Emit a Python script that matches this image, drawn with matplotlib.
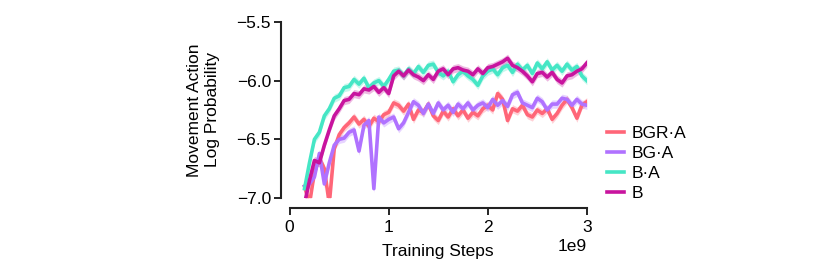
import numpy as np
import matplotlib
matplotlib.use("Agg")
import matplotlib.pyplot as plt

plt.rcParams['font.family'] = ['Liberation Sans', 'DejaVu Sans']

# training steps (x1e9)
steps = np.arange(0.15, 3.001, 0.05) * 1e9

bgr_a = [-6.90, -7.05, -6.78, -6.66, -6.75, -7.05, -6.58, -6.46, -6.40, -6.36,
         -6.31, -6.37, -6.33, -6.39, -6.32, -6.35, -6.29, -6.27, -6.19, -6.21,
         -6.26, -6.20, -6.33, -6.25, -6.27, -6.20, -6.30, -6.34, -6.26, -6.31,
         -6.24, -6.30, -6.25, -6.32, -6.27, -6.30, -6.24, -6.21, -6.25, -6.11,
         -6.16, -6.34, -6.24, -6.26, -6.21, -6.29, -6.31, -6.25, -6.28, -6.24,
         -6.33, -6.28, -6.21, -6.16, -6.23, -6.32, -6.21, -6.18]
bg_a = [-6.90, -6.88, -6.82, -6.62, -6.88, -6.70, -6.55, -6.50, -6.49, -6.44,
        -6.42, -6.60, -6.38, -6.34, -6.92, -6.31, -6.36, -6.33, -6.31, -6.41,
        -6.36, -6.27, -6.18, -6.21, -6.28, -6.20, -6.28, -6.19, -6.25, -6.21,
        -6.27, -6.20, -6.24, -6.19, -6.25, -6.21, -6.19, -6.23, -6.16, -6.21,
        -6.17, -6.22, -6.12, -6.10, -6.19, -6.21, -6.23, -6.15, -6.18, -6.25,
        -6.20, -6.20, -6.15, -6.16, -6.21, -6.16, -6.20, -6.21]
b_a = [-6.92, -6.70, -6.50, -6.44, -6.30, -6.24, -6.15, -6.13, -6.06, -6.05,
       -5.99, -6.03, -5.98, -6.06, -6.02, -6.00, -6.05, -5.99, -5.92, -5.91,
       -5.96, -5.90, -5.94, -5.88, -5.93, -5.87, -5.86, -5.93, -5.96, -5.92,
       -6.01, -5.95, -5.92, -5.96, -5.99, -6.04, -5.96, -5.92, -5.90, -5.95,
       -5.89, -5.87, -5.93, -5.86, -5.91, -5.87, -5.94, -5.85, -5.90, -5.84,
       -5.91, -5.87, -5.92, -5.86, -5.91, -5.88, -5.96, -6.00]
b = [-7.05, -6.85, -6.68, -6.70, -6.55, -6.42, -6.30, -6.24, -6.17, -6.16,
     -6.11, -6.12, -6.07, -6.08, -6.05, -6.10, -6.06, -6.11, -5.96, -5.92,
     -5.96, -5.91, -5.95, -5.97, -6.00, -5.95, -5.99, -5.92, -5.90, -5.95,
     -5.90, -5.89, -5.91, -5.92, -5.95, -5.90, -5.94, -5.89, -5.88, -5.86,
     -5.84, -5.81, -5.87, -5.89, -5.92, -5.96, -6.01, -5.94, -5.93, -5.97,
     -5.93, -5.99, -6.02, -5.96, -5.95, -5.92, -5.90, -5.85]

labels = ['BGR·A', 'BG·A', 'B·A', 'B']
colors = ['#ff6678', '#b072ff', '#45e6c5', '#c8149e']
spread = 0.035

fig = plt.figure(figsize=(8.3, 2.77), dpi=100)
ax = fig.add_axes([0.349, 0.285, 0.358, 0.636])

for y, lab, c in zip([bgr_a, bg_a, b_a, b], labels, colors):
    y = np.array(y)
    ax.fill_between(steps, y - spread, y + spread, color=c, alpha=0.3, lw=0)
    ax.plot(steps, y, color=c, lw=2.6, label=lab)

ax.set_xlim(0, 3e9)
ax.set_ylim(-7.0, -5.5)
ax.set_xticks([0, 1e9, 2e9, 3e9])
ax.set_yticks([-7.0, -6.5, -6.0, -5.5])
ax.tick_params(labelsize=12.5, length=5, width=1.2, pad=2)
ax.tick_params(axis='x', pad=4)
ax.xaxis.get_offset_text().set_fontsize(12.5)

for s in ['top', 'right']:
    ax.spines[s].set_visible(False)
for s in ['left', 'bottom']:
    ax.spines[s].set_linewidth(1.5)
    ax.spines[s].set_color('#222222')
ax.spines['left'].set_position(('outward', 6.5))
ax.spines['bottom'].set_position(('outward', 7))

ax.set_xlabel('Training Steps', fontsize=12.5, labelpad=6)
ax.set_ylabel('Movement Action\nLog Probability', fontsize=12.5, labelpad=12)

ax.legend(loc='center left', bbox_to_anchor=(1.015, 0.196), frameon=False,
          fontsize=12.5, handlelength=1.0, handletextpad=0.45, labelspacing=0.28)

fig.savefig('out.png', dpi=100)
